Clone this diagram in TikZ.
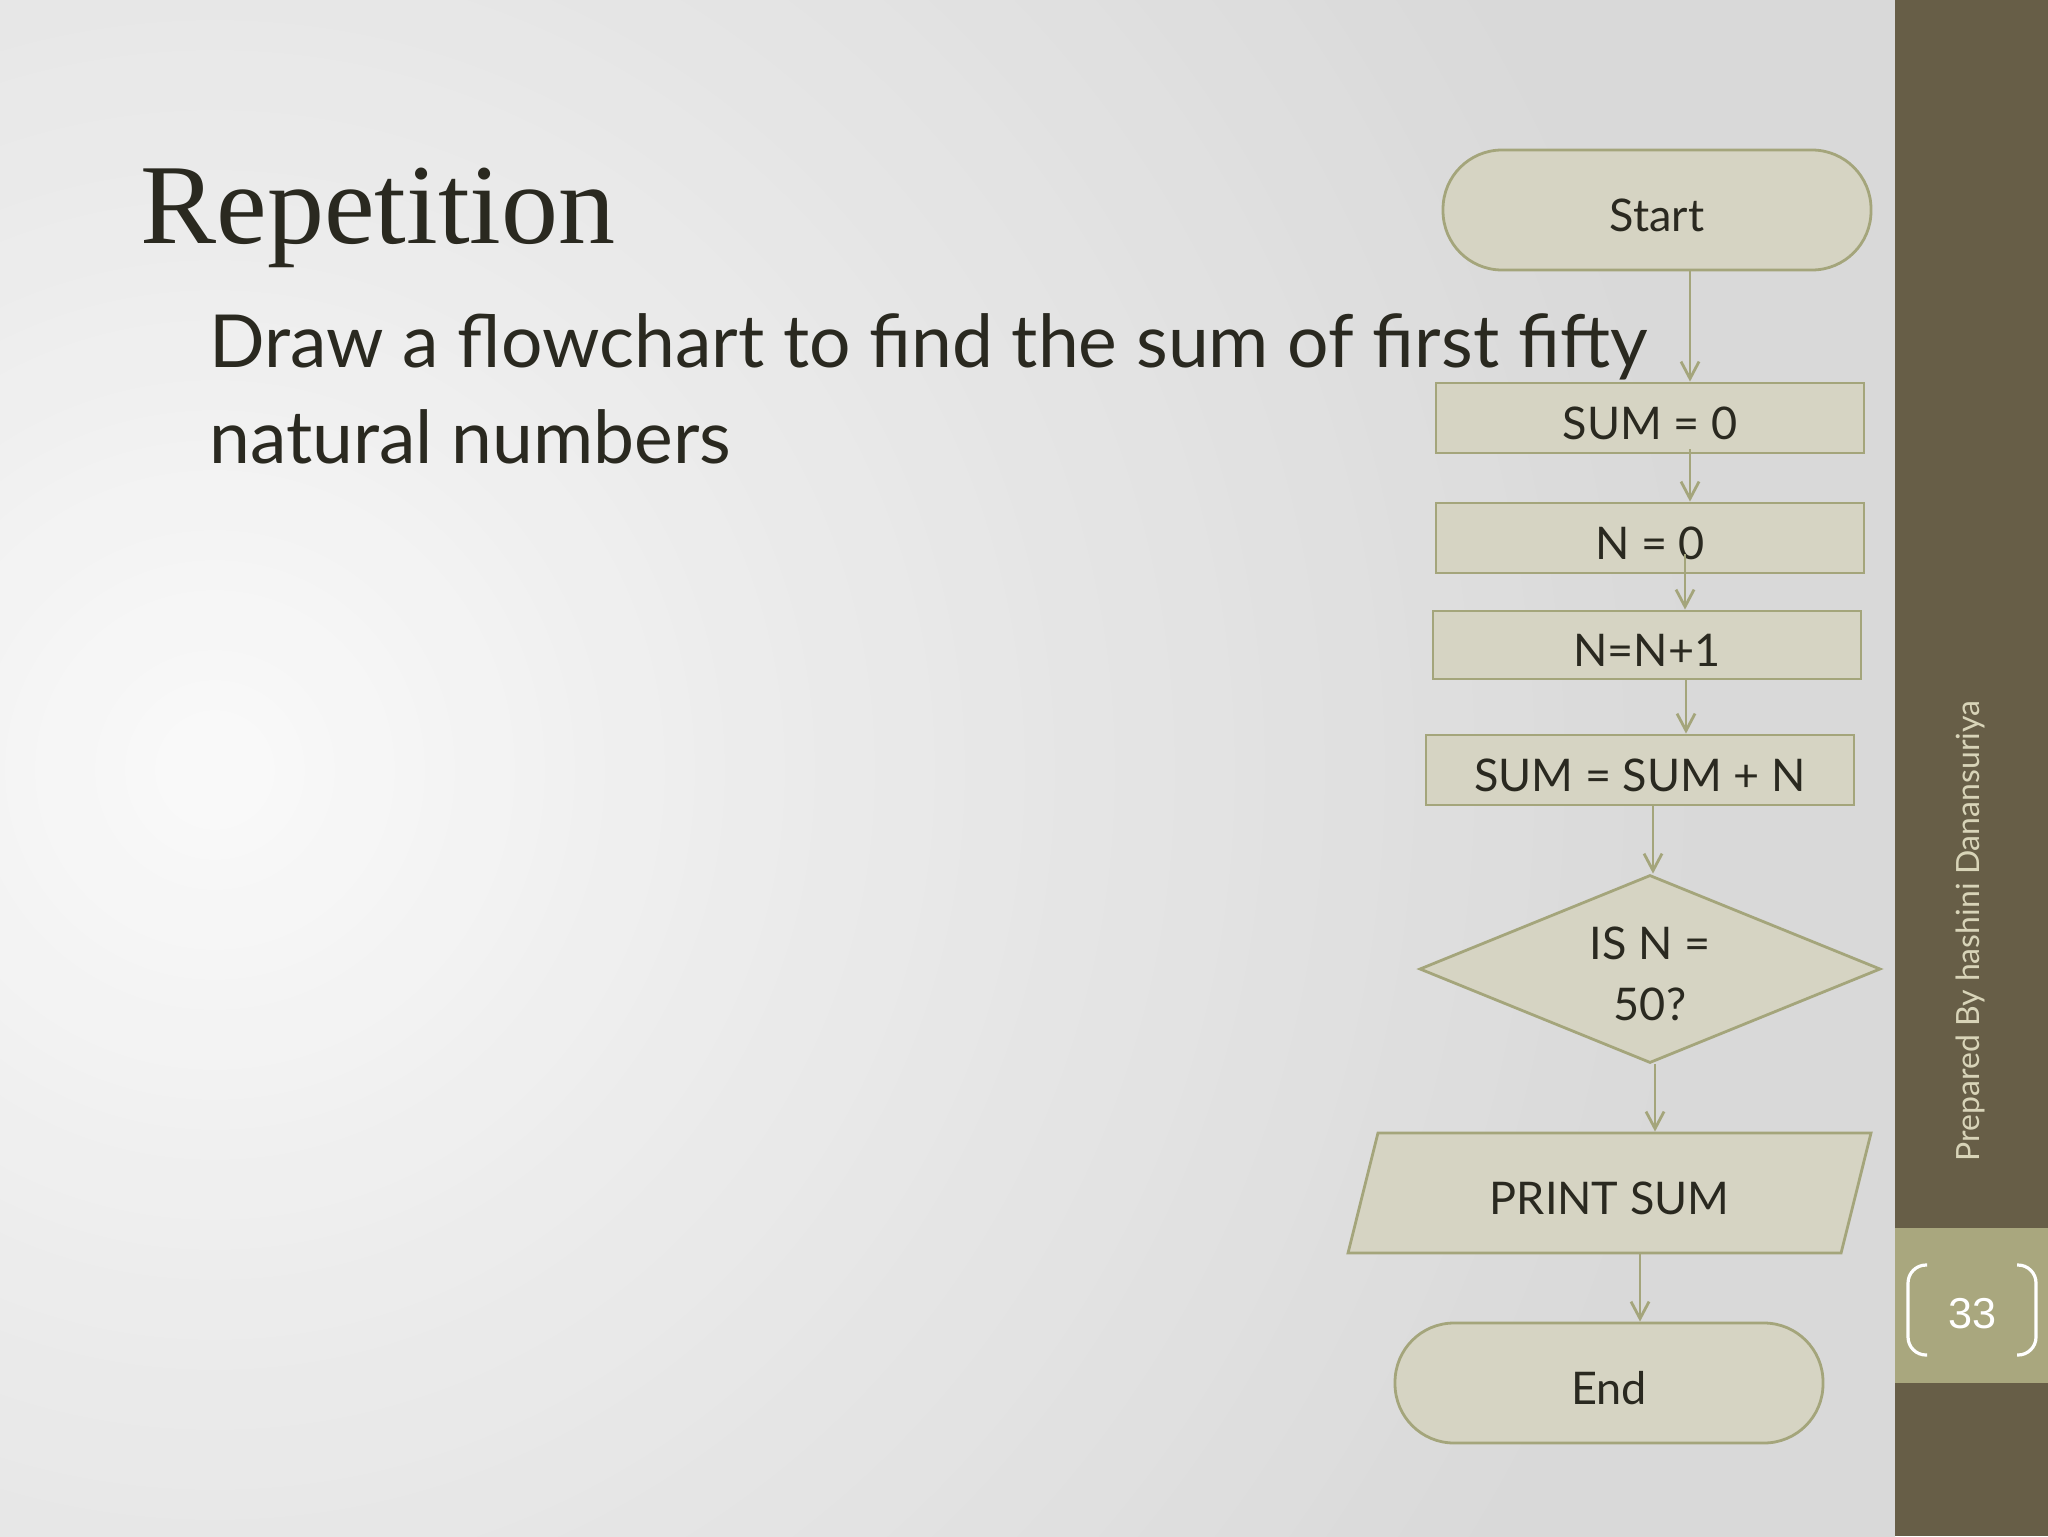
\documentclass[tikz,border=0pt]{standalone}
\usepackage{fontspec}
\usetikzlibrary{shapes.geometric,arrows.meta}
\newfontfamily\lato{Lato}
\newfontfamily\titlef{Liberation Serif}
\newfontfamily\arialf{Liberation Sans}
\definecolor{bgD}{HTML}{D9D9D9}
\definecolor{side}{HTML}{675E47}
\definecolor{band}{HTML}{A9A77E}
\definecolor{sidetxt}{HTML}{D8D4B8}
\definecolor{boxfill}{HTML}{D6D4C3}
\definecolor{boxdraw}{HTML}{A4A57B}
\definecolor{txt}{HTML}{2A2920}
\newcommand{\dn}[1]{\raisebox{-2.5pt}[\height][\depth]{#1}}
\tikzset{
  fc/.style={draw=boxdraw, fill=boxfill, line width=1.4pt, text=txt, inner sep=0pt,
    font=\lato\fontsize{22.5}{30.5}\selectfont},
  term/.style={fc, rectangle, rounded corners=29.5pt, minimum width=214pt, minimum height=60pt},
  proc/.style={fc, rectangle, minimum width=214pt, minimum height=35pt},
  dec/.style={fc, diamond, aspect=2.45, minimum width=230.5pt, minimum height=94pt, align=center},
  iobox/.style={fc, trapezium, trapezium left angle=76, trapezium right angle=104,
    text height=40.5pt, text depth=19.5pt,
    trapezium stretches body=true, minimum width=261.5pt, minimum height=60pt},
  arr/.style={draw=boxdraw, line width=1.4pt, -{Straight Barb[length=8.5pt,width=9pt,line width=1.4pt]}},
}
\begin{document}
\begin{tikzpicture}[x=0.5pt,y=-0.5pt]
\useasboundingbox (0,0) rectangle (2048,1536);
% background: radial gradient built from concentric discs
\fill[bgD] (0,0) rectangle (2048,1536);
\begin{scope}
\clip (0,0) rectangle (1895,1536);
\foreach \k in {62,61,...,1} {
  \pgfmathsetmacro\rr{\k*30}
  \pgfmathsetmacro\gv{(\rr<600 ? 250-0.025*\rr : (\rr<1300 ? 235-0.02*(\rr-600) : max(217,221-0.02*(\rr-1300))))/255}
  \definecolor{ringc}{gray}{\gv}
  \fill[ringc] (215,770) circle (\rr);
}
\end{scope}
% sidebar
\fill[side] (1895,0) rectangle (2048,1536);
\fill[band] (1895,1228) rectangle (2048,1383);
\draw[white, line width=1.6pt, rounded corners=9pt] (1927,1265) -- (1908,1265) -- (1908,1355) -- (1927,1355);
\draw[white, line width=1.6pt, rounded corners=9pt] (2017,1265) -- (2036,1265) -- (2036,1355) -- (2017,1355);
\node[font=\arialf\fontsize{21.6}{24}\selectfont, text=white, inner sep=0pt] (pnum) at (1972,1313.5) {33};
\node[rotate=90, font=\lato\fontsize{16}{20}\selectfont, text=sidetxt, inner sep=0pt] (prep) at (1970,931) {Prepared By hashini Danansuriya};
% title and body
\node[anchor=base west, font=\titlef\fontsize{57}{60}\selectfont, text=txt, inner sep=0pt] (title) at (140,243) {Repetition};
\node[anchor=base west, font=\lato\fontsize{36.6}{42}\selectfont, text=txt, inner sep=0pt] (body1) at (209,367) {Draw a flowchart to find the sum of first fifty};
\node[anchor=base west, font=\lato\fontsize{36.6}{42}\selectfont, text=txt, inner sep=0pt] (body2) at (209,463) {natural numbers};
% flowchart
\node[term] (start) at (1657,210) {\dn{Start}};
\node[proc] (sum0) at (1650,418) {\dn{SUM = 0}};
\node[proc] (n0) at (1650,538) {\dn{N = 0}};
\node[proc, minimum height=34pt] (ninc) at (1647,645) {\dn{N=N+1}};
\node[proc] (sumn) at (1640,770) {\dn{SUM = SUM + N}};
\node[dec] (isn) at (1650,969) {\dn{IS N =}\\\dn{50?}};
\node[iobox] (print) at (1609.5,1193) {PRINT SUM};
\node[term] (end) at (1609,1383) {\dn{End}};
% connectors
\draw[arr] ([xshift=16.5pt]start.south) -- ([xshift=20pt]sum0.north);
\draw[arr] ([xshift=20pt,yshift=2.5pt]sum0.south) -- ([xshift=20pt]n0.north);
\draw[arr] ([xshift=17.5pt,yshift=10pt]n0.south) -- ([xshift=19pt]ninc.north);
\draw[arr] ([xshift=19.5pt]ninc.south) -- ([xshift=23pt]sumn.north);
\draw[arr] ([xshift=6.5pt]sumn.south) -- ([xshift=1.5pt]isn.north);
\coordinate (d1) at ([xshift=2.5pt]isn.south);
\draw[arr] (d1) -- (d1 |- print.north);
\coordinate (e1) at ([xshift=15.5pt]end.north);
\draw[arr] (e1 |- print.south) -- (e1);
\end{tikzpicture}
\end{document}
